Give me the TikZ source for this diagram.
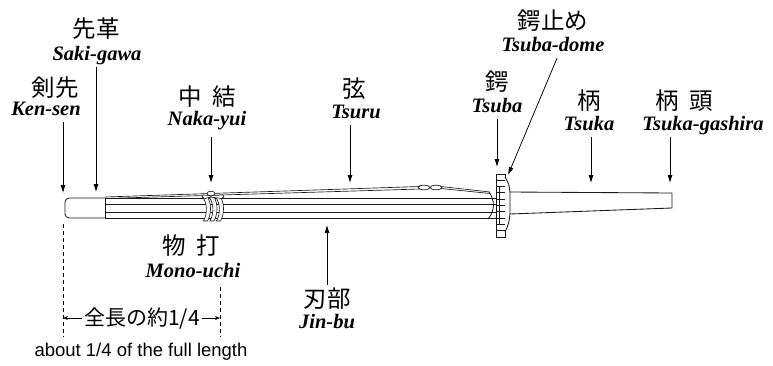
\documentclass[tikz,border=0pt]{standalone}
\usepackage{fontspec}
\setmainfont{Liberation Serif}
\newfontfamily\jpfont{Noto Sans CJK JP}
\newfontfamily\notefont{Liberation Sans}
\usepackage{tikz}
\usetikzlibrary{arrows.meta,positioning,calc}

\begin{document}
\begin{tikzpicture}[
  x=1pt, y=-1pt,
  >={Latex[length=8pt,width=5pt]},
  jp/.style={font=\jpfont\fontsize{23.5}{26}\selectfont, anchor=base, inner sep=3pt, text height=19pt, text depth=3pt},
  rom/.style={font=\bfseries\itshape\fontsize{20.5}{22}\selectfont, anchor=base, inner sep=3pt, text height=14pt, text depth=4pt},
  dimtxt/.style={font=\jpfont\fontsize{21}{24}\selectfont, anchor=base, inner sep=2pt, text height=17pt, text depth=3pt},
  ptr/.style={->, line width=0.75pt},
  dimptr/.style={-{Stealth[length=5pt,width=4pt]}, line width=0.6pt},
  body/.style={line width=0.85pt, draw=black!90},
  cord/.style={line width=0.65pt, draw=black!90},
  guide/.style={line width=0.6pt, dash pattern=on 4pt off 3pt},
]
\useasboundingbox (0,0) rectangle (773,365);

% shinai: saki-gawa, blade, tsuba, tsuka
\draw[body, rounded corners=4pt] (105,198) -- (65,198) -- (65,218) -- (105,218);
\draw[body] (105,198) -- (105,218);
\foreach \ly in {198,204.5,212.5,218}
  \draw[body] (105,\ly) -- (496,\ly);
\draw[body] (489,192) .. controls (495,200) and (495,211) .. (488,219);
\draw[cord] (105,197) -- (420,186.5);
\draw[cord] (105,198.5) -- (420,189);
\draw[cord] (424,187.5) ellipse (6pt and 2.3pt);
\draw[cord] (436,187.5) ellipse (6pt and 2.3pt);
\draw[cord] (441,186.5) -- (490,192);
\draw[cord] (441,188.5) -- (490,193.5);
\foreach \sx in {202.5,209,215.5}
  \draw[cord, fill=white] (\sx,197) .. controls (\sx+5,203) and (\sx+5,214) .. (\sx+1,221)
    -- (\sx+5,221) .. controls (\sx+9,214) and (\sx+9,203) .. (\sx+5,197) -- cycle;
\draw[cord, fill=white] (211,195.5) -- (203,195) .. controls (201.5,197) .. (205,198.5) -- (211,197) -- cycle;
\draw[cord, fill=white] (211,195.5) -- (223,195) .. controls (224.5,197) .. (221,198.5) -- (211,197) -- cycle;
\draw[cord, fill=white] (211,193.5) ellipse (4pt and 2.3pt);
\draw[body, fill=white] (496,174) rectangle (505,237);
\foreach \i in {1,...,9}
  \draw[body] (496,174+\i*6.3) -- (505,174+\i*6.3);
\draw[body] (499.5,187) -- (499.5,224);
\draw[body, fill=white] (505,177) .. controls (509,184) .. (510,193) -- (510,213) .. controls (509,223) .. (505,232);
\draw[body] (510,192) -- (672,193) -- (672,208) -- (510,214);

% points on the shinai
\coordinate (kenP) at (63,193);
\coordinate (sakiP) at (96,192);
\coordinate (nakaP) at (211,183);
\coordinate (tsuruP) at (350,183);
\coordinate (tsubaP) at (497,167);
\coordinate (domeP) at (508,175);
\coordinate (tsukaP) at (591,183);
\coordinate (kashiraP) at (670,183);
\coordinate (jinbuP) at (327,225);

% labels
\node[jp] (kensenJ) at (55,96) {剣先};
\node[rom] (kensen) at (46,115) {Ken-sen};
\node[jp] (sakiJ) at (96,37) {先革};
\node[rom] (sakigawa) at (97,60) {Saki-gawa};
\node[jp] (nakaJ) at (207,105) {中\hspace{0.45em}結};
\node[rom] (nakayui) at (207,125) {Naka-yui};
\node[jp] (tsuruJ) at (354,97) {弦};
\node[rom] (tsuru) at (356,118) {Tsuru};
\node[jp] (tsubaJ) at (497,90) {鍔};
\node[rom] (tsuba) at (497,112) {Tsuba};
\node[jp] (domeJ) at (553,29) {鍔止め};
\node[rom] (tsubadome) at (553,51) {Tsuba-dome};
\node[jp] (tsukaJ) at (589,109) {柄};
\node[rom] (tsuka) at (589,130) {Tsuka};
\node[jp] (kashiraJ) at (684,109) {柄\hspace{0.45em}頭};
\node[rom] (kashira) at (703,130) {Tsuka-gashira};
\node[jp] (monoJ) at (191,254) {物\hspace{0.45em}打};
\node[rom] (monouchi) at (193,277) {Mono-uchi};
\node[jp] (jinbuJ) at (327,307) {刃部};
\node[rom] (jinbu) at (327,328) {Jin-bu};

\draw[ptr] (kensen.south -| kenP) -- (kenP);
\draw[ptr] (sakigawa.south -| sakiP) -- (sakiP);
\draw[ptr, shorten <=5pt] (nakayui.south -| nakaP) -- (nakaP);
\draw[ptr] (tsuru.south -| tsuruP) -- (tsuruP);
\draw[ptr] (tsuba.south -| tsubaP) -- (tsubaP);
\draw[ptr] ([xshift=4pt]tsubadome.south) -- (domeP);
\draw[ptr] (tsuka.south -| tsukaP) -- (tsukaP);
\draw[ptr] (kashira.south -| kashiraP) -- (kashiraP);
\draw[ptr] (jinbuJ.north) -- (jinbuP);

% mono-uchi span
\coordinate (dimL0) at (63,224);
\coordinate (dimL1) at (63,337);
\coordinate (dimR0) at (220,287);
\coordinate (dimR1) at (220,337);
\draw[guide] (dimL0) -- (dimL1);
\draw[guide] (dimR0) -- (dimR1);
\node[dimtxt] (span) at (142,325) {全長の約1/4};
\draw[dimptr] (span.west) -- (span.west -| dimL1);
\draw[dimptr] (span.east) -- (span.east -| dimR1);
\node[font=\notefont\fontsize{18.5}{22}\selectfont, anchor=base] (note) at (141,356) {about 1/4 of the full length};
\end{tikzpicture}
\end{document}
